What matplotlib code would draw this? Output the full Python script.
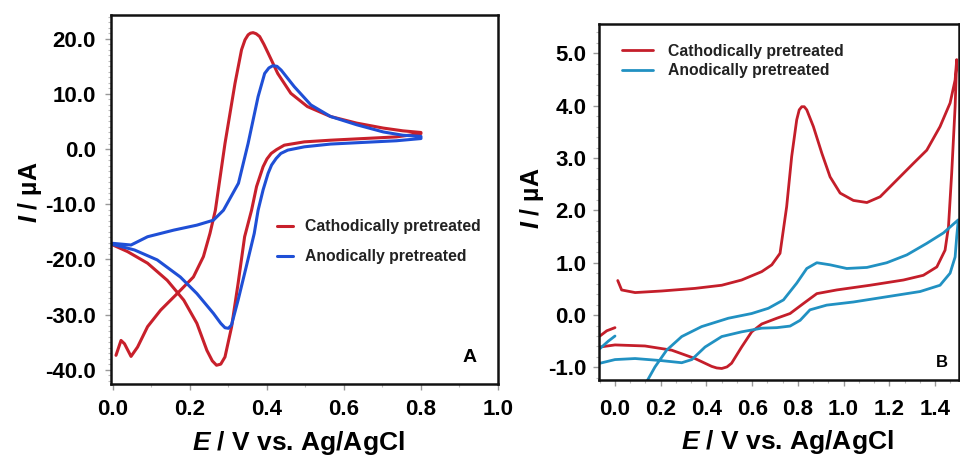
import numpy as np
import matplotlib.pyplot as plt
from matplotlib.ticker import MultipleLocator, AutoMinorLocator

plt.rcParams['font.family'] = ['Liberation Sans', 'DejaVu Sans']
plt.rcParams['font.weight'] = 'bold'
plt.rcParams['mathtext.fontset'] = 'custom'
plt.rcParams['mathtext.it'] = 'Liberation Sans:italic:bold'
plt.rcParams['mathtext.rm'] = 'Liberation Sans:bold'

# --- panel A: CV, potential (V) / current (uA) ---
cath_a_E = [0.008, 0.021, 0.030, 0.047, 0.064, 0.090, 0.124, 0.167, 0.209, 0.235, 0.252, 0.266,
            0.291, 0.317, 0.334, 0.343, 0.351, 0.357, 0.364, 0.372, 0.381, 0.392, 0.403, 0.428,
            0.462, 0.505, 0.565, 0.633, 0.702, 0.753, 0.800, 0.800, 0.736, 0.650, 0.565, 0.497,
            0.445, 0.425, 0.411, 0.400, 0.390, 0.373, 0.360, 0.342, 0.325, 0.308, 0.291, 0.280,
            0.269, 0.258, 0.244, 0.218, 0.184, 0.141, 0.090, 0.038, 0.0]
cath_a_I = [-37.4, -34.7, -35.3, -37.6, -35.9, -32.2, -29.2, -26.2, -23.2, -19.5, -15.3, -11.1,
            1.0, 11.9, 18.0, 19.8, 20.7, 21.0, 21.1, 20.9, 20.4, 19.0, 17.4, 13.7,
            10.1, 7.7, 5.9, 4.7, 3.8, 3.3, 3.0, 2.8, 2.2, 1.9, 1.6, 1.3,
            0.7, -0.1, -0.8, -1.8, -3.2, -6.8, -11.1, -15.9, -24.4, -32.3, -37.7, -39.0,
            -39.2, -38.4, -36.5, -31.6, -27.4, -23.8, -20.7, -18.6, -17.4]

anod_a_E = [0.0, 0.047, 0.090, 0.158, 0.218, 0.261, 0.287, 0.326, 0.351, 0.377, 0.394, 0.405,
            0.415, 0.426, 0.437, 0.471, 0.514, 0.565, 0.633, 0.702, 0.753, 0.800, 0.800, 0.736,
            0.650, 0.565, 0.497, 0.454, 0.436, 0.424, 0.412, 0.403, 0.390, 0.377, 0.367, 0.346,
            0.325, 0.308, 0.300, 0.291, 0.280, 0.261, 0.218, 0.175, 0.115, 0.056, 0.0]
anod_a_I = [-17.1, -17.4, -15.9, -14.7, -13.8, -12.9, -11.1, -6.2, 1.0, 9.5, 13.7, 14.7,
            15.1, 15.0, 14.3, 11.3, 8.0, 5.9, 4.4, 3.1, 2.5, 2.3, 1.9, 1.5,
            1.2, 0.9, 0.4, -0.2, -0.8, -1.7, -2.9, -4.4, -7.4, -11.1, -15.3, -21.4,
            -27.4, -31.9, -32.5, -32.4, -31.6, -29.8, -26.2, -23.2, -20.1, -18.3, -17.3]

# --- panel B ---
cath_b_E = [0.012, 0.029, 0.088, 0.204, 0.350, 0.467, 0.554, 0.642, 0.686, 0.722, 0.751, 0.773,
            0.795, 0.806, 0.817, 0.828, 0.839, 0.868, 0.905, 0.941, 0.985, 1.043, 1.102, 1.160,
            1.233, 1.306, 1.364, 1.422, 1.466, 1.488, 1.495, 1.488, 1.473, 1.459, 1.444, 1.408,
            1.349, 1.262, 1.116, 0.970, 0.883, 0.824, 0.766, 0.708, 0.642, 0.598, 0.554, 0.510,
            0.490, 0.467, 0.445, 0.423, 0.350, 0.248, 0.131, 0.0, -0.066]
cath_b_I = [0.66, 0.48, 0.43, 0.46, 0.51, 0.57, 0.67, 0.83, 0.96, 1.18, 2.07, 3.03,
            3.73, 3.92, 3.98, 3.98, 3.92, 3.60, 3.09, 2.64, 2.33, 2.19, 2.15, 2.26,
            2.58, 2.90, 3.15, 3.60, 4.05, 4.49, 4.88, 3.98, 2.71, 1.69, 1.24, 0.92,
            0.76, 0.67, 0.57, 0.48, 0.41, 0.22, 0.03, -0.06, -0.17, -0.32, -0.61, -0.92,
            -0.99, -1.02, -1.01, -0.98, -0.83, -0.67, -0.59, -0.57, -0.61]
cath_b_tail_E = [-0.066, -0.036, 0.0]
cath_b_tail_I = [-0.40, -0.30, -0.24]

anod_b_E = [0.139, 0.175, 0.226, 0.292, 0.379, 0.496, 0.598, 0.671, 0.737, 0.795, 0.839, 0.883,
            0.941, 1.014, 1.102, 1.189, 1.277, 1.364, 1.437, 1.502, 1.495, 1.488, 1.466, 1.422,
            1.335, 1.189, 1.043, 0.926, 0.853, 0.810, 0.766, 0.708, 0.642, 0.554, 0.467, 0.394,
            0.336, 0.292, 0.204, 0.088, 0.0, -0.066]
anod_b_I = [-1.27, -0.99, -0.67, -0.41, -0.22, -0.06, 0.03, 0.13, 0.29, 0.61, 0.89, 1.00,
            0.96, 0.89, 0.91, 1.00, 1.15, 1.37, 1.57, 1.82, 1.50, 1.11, 0.80, 0.57,
            0.45, 0.35, 0.25, 0.19, 0.10, -0.10, -0.21, -0.24, -0.25, -0.32, -0.41, -0.61,
            -0.85, -0.91, -0.87, -0.83, -0.85, -0.92]
anod_b_tail_E = [-0.066, -0.030, 0.0]
anod_b_tail_I = [-0.64, -0.50, -0.40]

red_a, blue_a = '#c8202b', '#1f4fd6'
red_b, blue_b = '#c41e2a', '#2191c2'
labels = ['Cathodically pretreated', 'Anodically pretreated']

fig = plt.figure(figsize=(9.6, 4.59), dpi=100)
W, H = 960, 459


def px_axes(l, t, r, b):
    return fig.add_axes([l / W, 1 - b / H, (r - l) / W, (b - t) / H])


def style(ax):
    for s in ax.spines.values():
        s.set_linewidth(1.8)
        s.set_color('#111111')
    ax.tick_params(which='major', direction='out', length=4, width=1, color='#999999',
                   labelsize=16, pad=7)
    ax.tick_params(which='minor', direction='out', length=2.5, width=0.8, color='#bbbbbb')
    for lab in ax.get_xticklabels() + ax.get_yticklabels():
        lab.set_fontweight('bold')


line_kw = dict(solid_joinstyle='round', solid_capstyle='round')

# panel A
axA = px_axes(111, 15, 498, 384)
axA.plot(cath_a_E, cath_a_I, color=red_a, lw=2.2, label=labels[0], **line_kw)
axA.plot(anod_a_E, anod_a_I, color=blue_a, lw=2.2, label=labels[1], **line_kw)
axA.set_xlim(-0.005, 1.0)
axA.set_ylim(-42.6, 24.3)
axA.xaxis.set_major_locator(MultipleLocator(0.2))
axA.xaxis.set_minor_locator(AutoMinorLocator(2))
axA.yaxis.set_major_locator(MultipleLocator(10))
axA.yaxis.set_minor_locator(AutoMinorLocator(10))
axA.xaxis.set_major_formatter(lambda v, p: f'{v:.1f}')
axA.yaxis.set_major_formatter(lambda v, p: f'{v:.1f}')
style(axA)
axA.legend(loc='upper left', bbox_to_anchor=(0.429, 0.446), frameon=False, borderpad=0,
           borderaxespad=0, handlelength=1.0, handletextpad=0.8, labelspacing=0.95,
           prop={'weight': 'bold', 'size': 11.3}, labelcolor='#222222')
axA.text(0.926, 0.073, 'A', transform=axA.transAxes, fontsize=14, fontweight='bold',
         ha='center', va='center')

# panel B
axB = px_axes(599, 24, 959, 380)
axB.plot(cath_b_E, cath_b_I, color=red_b, lw=2.0, label=labels[0], **line_kw)
axB.plot(cath_b_tail_E, cath_b_tail_I, color=red_b, lw=2.0, **line_kw)
axB.plot(anod_b_E, anod_b_I, color=blue_b, lw=2.0, label=labels[1], **line_kw)
axB.plot(anod_b_tail_E, anod_b_tail_I, color=blue_b, lw=2.0, **line_kw)
axB.set_xlim(-0.07, 1.505)
axB.set_ylim(-1.24, 5.56)
axB.xaxis.set_major_locator(MultipleLocator(0.2))
axB.xaxis.set_minor_locator(AutoMinorLocator(3))
axB.yaxis.set_major_locator(MultipleLocator(1))
axB.yaxis.set_minor_locator(AutoMinorLocator(5))
axB.xaxis.set_major_formatter(lambda v, p: f'{v:.1f}')
axB.yaxis.set_major_formatter(lambda v, p: f'{v:.1f}')
style(axB)
axB.tick_params(axis='x', which='major', pad=10)
axB.tick_params(axis='y', which='major', pad=5)
axB.legend(loc='upper left', bbox_to_anchor=(0.064, 0.945), frameon=False, borderpad=0,
           borderaxespad=0, handlelength=2.0, handletextpad=0.95, labelspacing=0.3,
           prop={'weight': 'bold', 'size': 11.3}, labelcolor='#222222')
axB.text(0.952, 0.05, 'B', transform=axB.transAxes, fontsize=12, fontweight='bold',
         ha='center', va='center')

# axis titles
xlab = r'$\mathit{E}$ / V vs. Ag/AgCl'
ylab = r'$\mathit{I}$ / µA'
fig.text(298 / W, 1 - 443 / H, xlab, fontsize=19, fontweight='bold', ha='center', va='center')
fig.text(787 / W, 1 - 442 / H, xlab, fontsize=19, fontweight='bold', ha='center', va='center')
fig.text(30 / W, 1 - 192 / H, ylab, fontsize=18, fontweight='bold', ha='center', va='center',
         rotation=90)
fig.text(532 / W, 1 - 198 / H, ylab, fontsize=18, fontweight='bold', ha='center', va='center',
         rotation=90)

fig.savefig('out.png', dpi=100)
